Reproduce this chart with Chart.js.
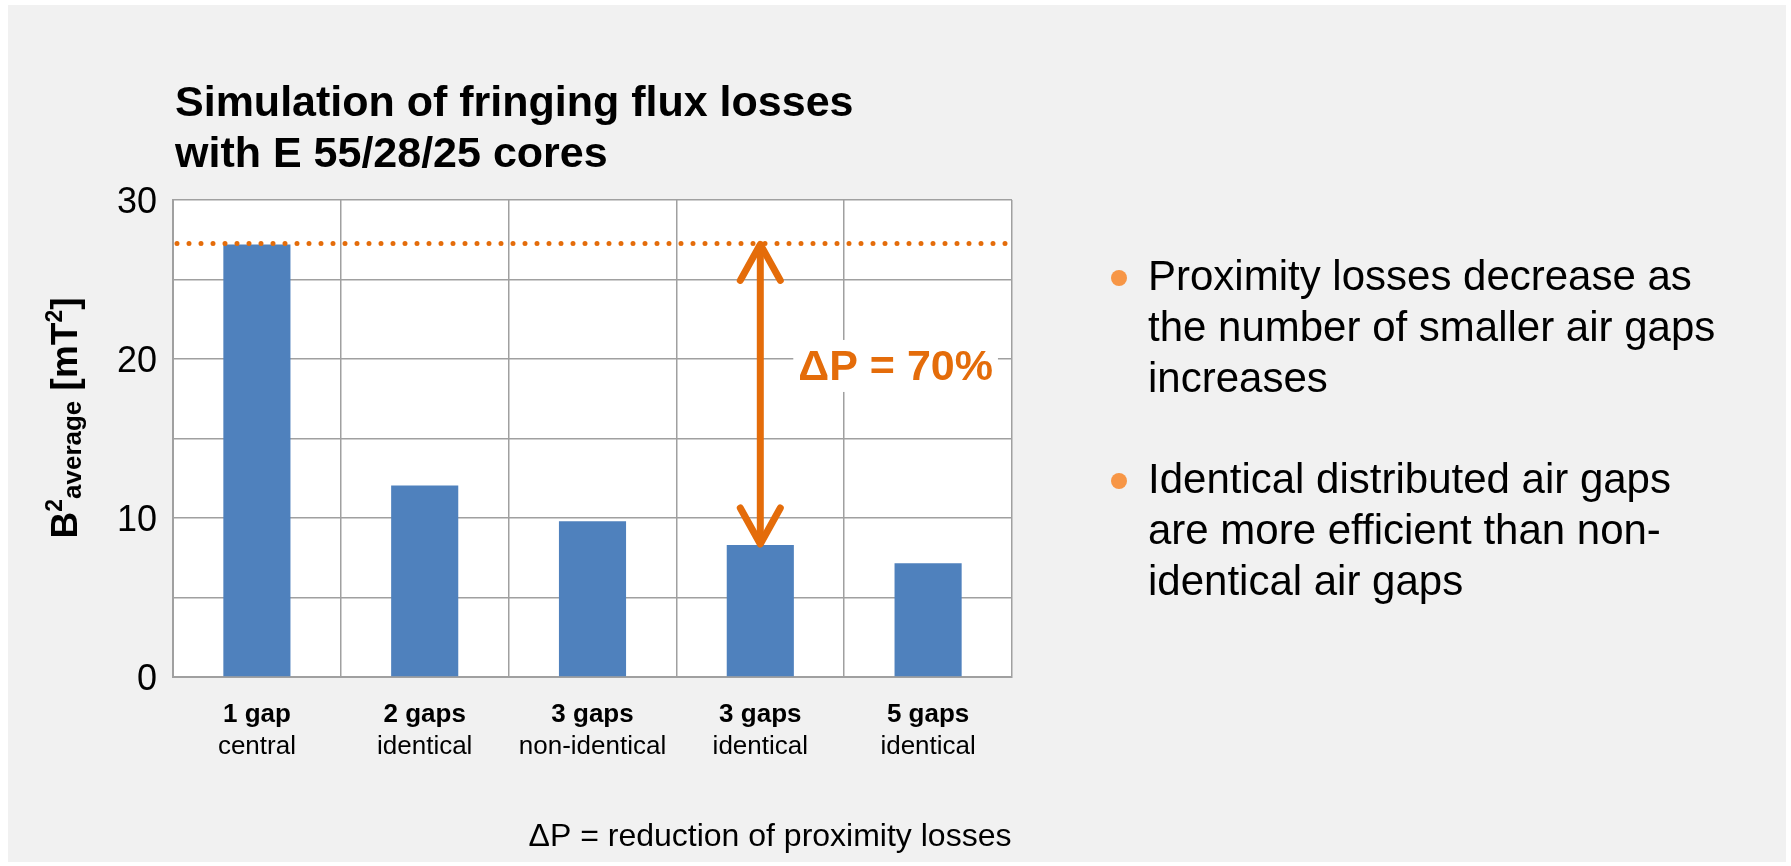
<!DOCTYPE html>
<html>
<head>
<meta charset="utf-8">
<title>Simulation of fringing flux losses</title>
<script src="https://cdn.jsdelivr.net/npm/chart.js@4/dist/chart.umd.min.js"></script>
<style>
  html, body { margin: 0; padding: 0; background: #ffffff; }
  canvas { display: block; }
</style>
</head>
<body>
<canvas id="chart" width="1791" height="866"></canvas>
<script>
// ---- data ----
const categoryMain = ['1 gap', '2 gaps', '3 gaps', '3 gaps', '5 gaps'];
const categorySub = ['central', 'identical', 'non-identical', 'identical', 'identical'];
const bAverageSquared = [27.2, 12.05, 9.8, 8.3, 7.15];   // mT^2
const referenceLevel = 27.27;                           // dotted line: single central gap
const comparedIndex = 3;                                // bar the arrow points to
const reductionLabel = 'ΔP = 70%';
const yMin = 0;
const yMax = 30;
const yGridStep = 5;
const yLabelStep = 10;

const titleLines = ['Simulation of fringing flux losses', 'with E 55/28/25 cores'];
const bulletItems = [
  ['Proximity losses decrease as', 'the number of smaller air gaps', 'increases'],
  ['Identical distributed air gaps', 'are more efficient than non-', 'identical air gaps']
];
const footNote = 'ΔP = reduction of proximity losses';

// ---- styling ----
const FONT = '"Liberation Sans", Arial, Helvetica, sans-serif';
const BAR_BLUE = '#4F81BD';
const ORANGE = '#E46C0A';
const BULLET_ORANGE = '#F79646';
const GRID_GRAY = '#A0A0A0';
const PANEL_GRAY = '#F1F1F1';

const decorations = {
  id: 'decorations',
  beforeDraw(chart) {
    const { ctx, chartArea: a, width, height } = chart;
    ctx.save();
    ctx.fillStyle = '#ffffff';
    ctx.fillRect(0, 0, width, height);
    ctx.fillStyle = PANEL_GRAY;
    ctx.fillRect(8, 5, width - 13, height - 9);
    ctx.fillStyle = '#ffffff';
    ctx.fillRect(a.left, a.top, a.right - a.left, a.bottom - a.top);
    ctx.restore();
  },
  afterDatasetsDraw(chart) {
    const { ctx, chartArea: a, scales: { x, y } } = chart;
    const refY = y.getPixelForValue(referenceLevel);
    const lowY = y.getPixelForValue(bAverageSquared[comparedIndex]);
    const ax = x.getPixelForValue(comparedIndex);

    ctx.save();
    // dotted reference line at the single-gap level
    ctx.strokeStyle = ORANGE;
    ctx.lineWidth = 5;
    ctx.lineCap = 'round';
    ctx.setLineDash([0, 12]);
    ctx.beginPath();
    ctx.moveTo(a.left + 4, refY);
    ctx.lineTo(a.right - 6, refY);
    ctx.stroke();
    ctx.setLineDash([]);

    // double-headed arrow between the two levels
    ctx.lineWidth = 7;
    ctx.lineJoin = 'round';
    ctx.beginPath();
    ctx.moveTo(ax, refY + 3);
    ctx.lineTo(ax, lowY - 3);
    ctx.stroke();
    const hw = 20, hl = 37;
    ctx.beginPath();
    ctx.moveTo(ax - hw, refY + hl);
    ctx.lineTo(ax, refY + 1);
    ctx.lineTo(ax + hw, refY + hl);
    ctx.stroke();
    ctx.beginPath();
    ctx.moveTo(ax - hw, lowY - hl);
    ctx.lineTo(ax, lowY - 1);
    ctx.lineTo(ax + hw, lowY - hl);
    ctx.stroke();

    // reduction label on a white patch
    const midY = y.getPixelForValue(19.5);
    ctx.font = 'bold 43px ' + FONT;
    const tw = ctx.measureText(reductionLabel).width;
    const tx = ax + 38;
    ctx.fillStyle = '#ffffff';
    ctx.fillRect(tx - 5, midY - 27, tw + 10, 52);
    ctx.fillStyle = ORANGE;
    ctx.textAlign = 'left';
    ctx.textBaseline = 'middle';
    ctx.fillText(reductionLabel, tx, midY + 1);
    ctx.restore();
  },
  afterDraw(chart) {
    const { ctx, scales: { x } } = chart;
    ctx.save();
    ctx.fillStyle = '#000000';
    ctx.textBaseline = 'alphabetic';

    // title
    ctx.textAlign = 'left';
    ctx.font = 'bold 43px ' + FONT;
    ctx.fillText(titleLines[0], 175, 116);
    ctx.fillText(titleLines[1], 175, 167);

    // category labels, two lines each
    ctx.textAlign = 'center';
    categoryMain.forEach((label, i) => {
      const cx = x.getPixelForValue(i);
      ctx.font = 'bold 26px ' + FONT;
      ctx.fillText(label, cx, 722);
      ctx.font = '26px ' + FONT;
      ctx.fillText(categorySub[i], cx, 754);
    });

    // rotated y-axis title: B²average [mT²]
    const parts = [
      { t: 'B', f: 'bold 37px ', dy: 0 },
      { t: '2', f: 'bold 23px ', dy: -15 },
      { t: 'average', f: 'bold 26px ', dy: 4 },
      { t: ' [mT', f: 'bold 37px ', dy: 0 },
      { t: '2', f: 'bold 23px ', dy: -15 },
      { t: ']', f: 'bold 37px ', dy: 0 }
    ];
    let total = 0;
    parts.forEach(p => { ctx.font = p.f + FONT; p.w = ctx.measureText(p.t).width; total += p.w; });
    ctx.save();
    ctx.translate(77, 418);
    ctx.rotate(-Math.PI / 2);
    ctx.textAlign = 'left';
    let px = -total / 2;
    parts.forEach(p => {
      ctx.font = p.f + FONT;
      ctx.fillText(p.t, px, p.dy);
      px += p.w;
    });
    ctx.restore();

    // bullet list
    ctx.textAlign = 'left';
    const bulletBaselines = [290, 493];
    bulletItems.forEach((lines, bi) => {
      const base = bulletBaselines[bi];
      ctx.fillStyle = BULLET_ORANGE;
      ctx.beginPath();
      ctx.arc(1119, base - 12, 8, 0, Math.PI * 2);
      ctx.fill();
      ctx.fillStyle = '#000000';
      ctx.font = '42px ' + FONT;
      lines.forEach((line, li) => ctx.fillText(line, 1148, base + li * 51));
    });

    // footnote
    ctx.textAlign = 'center';
    ctx.font = '32px ' + FONT;
    ctx.fillText(footNote, 770, 846);
    ctx.restore();
  }
};

new Chart(document.getElementById('chart'), {
  type: 'bar',
  data: {
    labels: categoryMain,
    datasets: [{
      data: bAverageSquared,
      backgroundColor: BAR_BLUE,
      borderWidth: 0,
      barPercentage: 0.4,
      categoryPercentage: 1.0
    }]
  },
  options: {
    responsive: false,
    devicePixelRatio: 1,
    animation: false,
    events: [],
    layout: { padding: { top: 200, right: 779, bottom: 0, left: 0 } },
    plugins: { legend: { display: false }, tooltip: { enabled: false } },
    scales: {
      x: {
        grid: { color: GRID_GRAY, lineWidth: 1.5, drawTicks: false, offset: true },
        border: { color: GRID_GRAY, width: 2 },
        ticks: { display: false },
        afterFit(scale) { scale.height = 189; }
      },
      y: {
        min: yMin,
        max: yMax,
        grid: { color: GRID_GRAY, lineWidth: 1.5, drawTicks: false },
        border: { color: GRID_GRAY, width: 2 },
        ticks: {
          stepSize: yGridStep,
          padding: 16,
          labelOffset: 3,
          color: '#000000',
          font: { family: FONT, size: 36 },
          callback: v => (v % yLabelStep === 0 ? String(v) : '')
        },
        afterFit(scale) { scale.width = 173; }
      }
    }
  },
  plugins: [decorations]
});
</script>
</body>
</html>
